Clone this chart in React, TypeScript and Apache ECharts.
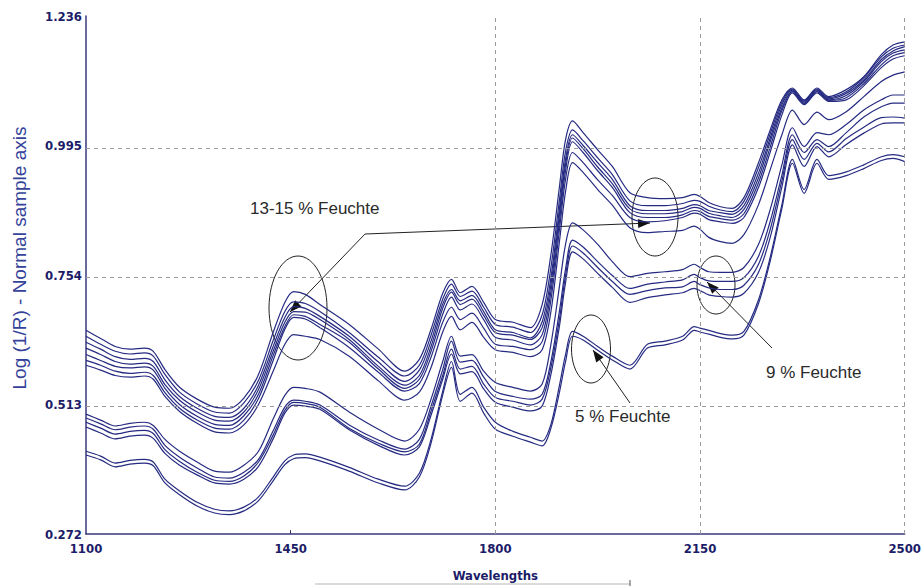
import React, { useEffect, useRef } from 'react';
import * as echarts from 'echarts';

// Wavelength sample points (nm)
const WAVELENGTHS = [
  1100, 1125, 1150, 1175, 1200, 1215, 1235, 1260, 1290, 1320,
  1345, 1370, 1395, 1420, 1440, 1455, 1475, 1500, 1550, 1600,
  1645, 1670, 1690, 1710, 1725, 1740, 1760, 1780, 1800, 1830,
  1860, 1880, 1895, 1910, 1920, 1932, 1950, 1975, 2000, 2030,
  2060, 2090, 2120, 2140, 2150, 2165, 2185, 2205, 2225, 2250,
  2270, 2290, 2308, 2328, 2350, 2370, 2400, 2430, 2460, 2480,
  2500,
];

// 13-15 % moisture spectra
const T1 = [
  0.651, 0.636, 0.621, 0.616, 0.618, 0.612, 0.578, 0.545, 0.523, 0.508,
  0.506, 0.525, 0.569, 0.647, 0.703, 0.723, 0.718, 0.699, 0.662, 0.616,
  0.575, 0.597, 0.653, 0.720, 0.746, 0.721, 0.733, 0.703, 0.671, 0.666,
  0.656, 0.699, 0.792, 0.922, 1.006, 1.041, 1.019, 0.987, 0.956, 0.907,
  0.898, 0.896, 0.898, 0.904, 0.900, 0.889, 0.881, 0.878, 0.898, 0.963,
  1.024, 1.080, 1.102, 1.080, 1.102, 1.086, 1.099, 1.123, 1.164, 1.182,
  1.188,
];
const T2 = [
  0.640, 0.625, 0.612, 0.607, 0.609, 0.603, 0.569, 0.536, 0.514, 0.499,
  0.497, 0.516, 0.558, 0.632, 0.686, 0.704, 0.701, 0.686, 0.647, 0.601,
  0.566, 0.586, 0.642, 0.709, 0.737, 0.714, 0.724, 0.694, 0.662, 0.657,
  0.647, 0.680, 0.768, 0.898, 0.984, 1.024, 1.004, 0.972, 0.941, 0.892,
  0.883, 0.883, 0.887, 0.893, 0.891, 0.882, 0.875, 0.872, 0.891, 0.954,
  1.017, 1.076, 1.100, 1.078, 1.100, 1.084, 1.095, 1.121, 1.160, 1.176,
  1.182,
];
const T3 = [
  0.629, 0.616, 0.602, 0.597, 0.599, 0.593, 0.559, 0.528, 0.506, 0.491,
  0.489, 0.506, 0.549, 0.621, 0.675, 0.695, 0.692, 0.677, 0.640, 0.592,
  0.556, 0.577, 0.631, 0.700, 0.727, 0.706, 0.716, 0.686, 0.652, 0.647,
  0.637, 0.667, 0.749, 0.881, 0.969, 1.015, 0.995, 0.963, 0.932, 0.883,
  0.874, 0.874, 0.878, 0.885, 0.883, 0.874, 0.870, 0.867, 0.883, 0.944,
  1.009, 1.071, 1.098, 1.076, 1.098, 1.082, 1.092, 1.117, 1.155, 1.171,
  1.179,
];
const T4 = [
  0.618, 0.606, 0.593, 0.588, 0.590, 0.584, 0.550, 0.521, 0.499, 0.484,
  0.482, 0.499, 0.541, 0.612, 0.666, 0.686, 0.685, 0.671, 0.634, 0.584,
  0.549, 0.567, 0.621, 0.692, 0.722, 0.699, 0.709, 0.679, 0.647, 0.642,
  0.634, 0.656, 0.736, 0.870, 0.960, 1.009, 0.989, 0.955, 0.924, 0.877,
  0.868, 0.868, 0.872, 0.880, 0.878, 0.869, 0.864, 0.861, 0.876, 0.935,
  1.002, 1.065, 1.096, 1.074, 1.096, 1.080, 1.088, 1.114, 1.151, 1.167,
  1.173,
];
const T5 = [
  0.606, 0.595, 0.584, 0.581, 0.583, 0.577, 0.543, 0.513, 0.491, 0.476,
  0.474, 0.492, 0.532, 0.604, 0.658, 0.680, 0.677, 0.662, 0.629, 0.579,
  0.543, 0.560, 0.612, 0.681, 0.713, 0.689, 0.700, 0.671, 0.638, 0.633,
  0.624, 0.643, 0.723, 0.857, 0.948, 1.002, 0.982, 0.948, 0.917, 0.870,
  0.861, 0.861, 0.866, 0.874, 0.872, 0.863, 0.859, 0.856, 0.868, 0.926,
  0.992, 1.060, 1.095, 1.073, 1.095, 1.079, 1.084, 1.110, 1.145, 1.162,
  1.168,
];
const T6 = [
  0.595, 0.586, 0.575, 0.571, 0.573, 0.567, 0.535, 0.506, 0.484, 0.469,
  0.467, 0.484, 0.524, 0.595, 0.653, 0.675, 0.672, 0.656, 0.619, 0.573,
  0.538, 0.552, 0.601, 0.666, 0.694, 0.671, 0.683, 0.655, 0.625, 0.621,
  0.615, 0.630, 0.708, 0.842, 0.932, 0.982, 0.963, 0.931, 0.902, 0.861,
  0.853, 0.855, 0.861, 0.869, 0.867, 0.857, 0.853, 0.850, 0.861, 0.917,
  0.983, 1.052, 1.093, 1.071, 1.093, 1.077, 1.080, 1.106, 1.140, 1.156,
  1.162,
];
const T7 = [
  0.586, 0.577, 0.567, 0.564, 0.566, 0.560, 0.528, 0.500, 0.478, 0.462,
  0.460, 0.475, 0.513, 0.575, 0.625, 0.643, 0.640, 0.634, 0.603, 0.557,
  0.521, 0.536, 0.582, 0.648, 0.677, 0.652, 0.666, 0.638, 0.615, 0.610,
  0.602, 0.615, 0.686, 0.820, 0.909, 0.963, 0.945, 0.913, 0.884, 0.842,
  0.833, 0.835, 0.837, 0.845, 0.839, 0.824, 0.816, 0.813, 0.829, 0.885,
  0.950, 1.015, 1.061, 1.034, 1.057, 1.043, 1.058, 1.086, 1.114, 1.126,
  1.132,
];

// 9 % moisture spectra
const M1 = [
  0.495, 0.484, 0.473, 0.478, 0.480, 0.474, 0.448, 0.426, 0.406, 0.389,
  0.387, 0.400, 0.426, 0.486, 0.530, 0.545, 0.543, 0.536, 0.499, 0.467,
  0.445, 0.467, 0.523, 0.593, 0.640, 0.603, 0.606, 0.575, 0.554, 0.545,
  0.538, 0.551, 0.625, 0.736, 0.811, 0.851, 0.838, 0.811, 0.779, 0.751,
  0.757, 0.760, 0.764, 0.774, 0.768, 0.760, 0.759, 0.759, 0.768, 0.811,
  0.876, 0.959, 1.028, 0.993, 1.019, 1.015, 1.034, 1.061, 1.080, 1.089,
  1.089,
];
const M2 = [
  0.488, 0.477, 0.466, 0.471, 0.473, 0.467, 0.437, 0.415, 0.395, 0.378,
  0.376, 0.387, 0.411, 0.464, 0.508, 0.521, 0.519, 0.512, 0.475, 0.447,
  0.430, 0.448, 0.510, 0.578, 0.631, 0.592, 0.595, 0.564, 0.537, 0.528,
  0.523, 0.532, 0.593, 0.690, 0.765, 0.819, 0.806, 0.779, 0.753, 0.729,
  0.737, 0.741, 0.745, 0.755, 0.749, 0.743, 0.742, 0.742, 0.749, 0.789,
  0.854, 0.940, 1.015, 0.982, 1.006, 0.993, 1.019, 1.048, 1.067, 1.074,
  1.074,
];
const M3 = [
  0.480, 0.469, 0.458, 0.463, 0.465, 0.459, 0.429, 0.407, 0.387, 0.372,
  0.370, 0.380, 0.406, 0.456, 0.502, 0.517, 0.515, 0.508, 0.469, 0.441,
  0.425, 0.439, 0.501, 0.567, 0.616, 0.579, 0.584, 0.551, 0.526, 0.519,
  0.512, 0.523, 0.582, 0.675, 0.753, 0.808, 0.795, 0.768, 0.742, 0.718,
  0.725, 0.730, 0.732, 0.742, 0.736, 0.730, 0.727, 0.727, 0.735, 0.774,
  0.839, 0.929, 1.006, 0.969, 0.999, 0.983, 1.008, 1.029, 1.047, 1.048,
  1.046,
];
const M4 = [
  0.471, 0.460, 0.449, 0.454, 0.456, 0.450, 0.422, 0.400, 0.382, 0.367,
  0.365, 0.374, 0.398, 0.449, 0.497, 0.512, 0.510, 0.504, 0.466, 0.437,
  0.419, 0.434, 0.493, 0.560, 0.607, 0.570, 0.574, 0.542, 0.517, 0.508,
  0.501, 0.510, 0.569, 0.662, 0.740, 0.797, 0.784, 0.757, 0.731, 0.703,
  0.712, 0.717, 0.721, 0.729, 0.725, 0.717, 0.714, 0.713, 0.720, 0.759,
  0.824, 0.918, 0.996, 0.956, 0.993, 0.974, 0.997, 1.018, 1.035, 1.037,
  1.037,
];

// 5 % moisture spectra
const B1 = [
  0.426, 0.417, 0.404, 0.409, 0.411, 0.406, 0.374, 0.352, 0.331, 0.318,
  0.315, 0.322, 0.341, 0.378, 0.408, 0.419, 0.421, 0.415, 0.396, 0.374,
  0.361, 0.385, 0.448, 0.538, 0.593, 0.532, 0.545, 0.508, 0.480, 0.463,
  0.452, 0.445, 0.476, 0.551, 0.606, 0.649, 0.640, 0.621, 0.603, 0.586,
  0.625, 0.631, 0.640, 0.658, 0.655, 0.651, 0.645, 0.642, 0.649, 0.708,
  0.787, 0.885, 0.969, 0.913, 0.969, 0.939, 0.946, 0.959, 0.974, 0.978,
  0.974,
];
const B2 = [
  0.419, 0.410, 0.397, 0.402, 0.404, 0.399, 0.367, 0.345, 0.324, 0.311,
  0.308, 0.315, 0.334, 0.371, 0.401, 0.412, 0.414, 0.408, 0.389, 0.367,
  0.354, 0.378, 0.441, 0.531, 0.582, 0.519, 0.534, 0.497, 0.467, 0.454,
  0.443, 0.436, 0.469, 0.538, 0.593, 0.640, 0.633, 0.614, 0.596, 0.579,
  0.618, 0.624, 0.633, 0.651, 0.648, 0.644, 0.638, 0.635, 0.642, 0.701,
  0.780, 0.878, 0.962, 0.906, 0.962, 0.932, 0.939, 0.952, 0.967, 0.971,
  0.965,
];

const SPECTRA = [T1, T2, T3, T4, T5, T6, T7, M1, M2, M3, M4, B1, B2];

const X_TICKS = [1100, 1450, 1800, 2150, 2500];
const X_SMALL_TICKS = [1450];
const Y_TICKS = [0.272, 0.513, 0.754, 0.995, 1.236];
const X_GRID = [1800, 2150, 2500];
const Y_GRID = [0.513, 0.754, 0.995, 1.236];

const X_NAME = 'Wavelengths';
const Y_NAME = 'Log (1/R) - Normal sample axis';
const LABEL_HIGH = '13-15 % Feuchte';
const LABEL_MID = '9 % Feuchte';
const LABEL_LOW = '5 % Feuchte';

const NAVY = '#1c1c68';
const LINE = '#262b82';
const TICK_FONT = "'DejaVu Sans Condensed', 'Liberation Sans Narrow', 'Liberation Sans', sans-serif";
const TEXT_FONT = "'Liberation Sans', Arial, sans-serif";

function arrowHead(tip: [number, number], from: [number, number], len = 12, half = 4.5) {
  const dx = tip[0] - from[0];
  const dy = tip[1] - from[1];
  const l = Math.hypot(dx, dy);
  const ux = dx / l;
  const uy = dy / l;
  const bx = tip[0] - ux * len;
  const by = tip[1] - uy * len;
  const nx = -uy * half;
  const ny = ux * half;
  return [tip, [bx + nx, by + ny], [bx - nx, by - ny]];
}

export default function App() {
  const ref = useRef<HTMLDivElement>(null);

  useEffect(() => {
    if (!ref.current) return;
    const chart = echarts.init(ref.current, null, { renderer: 'svg' });

    const series: any[] = SPECTRA.map((vals, i) => ({
      type: 'line',
      name: 'S' + (i + 1),
      data: WAVELENGTHS.map((w, j) => [w, vals[j]]),
      showSymbol: false,
      symbol: 'none',
      smooth: 0.3,
      lineStyle: { color: LINE, width: 1.2 },
      z: 3,
      silent: true,
    }));

    series.push({
      type: 'line',
      name: 'grid',
      data: [],
      z: 1,
      silent: true,
      markLine: {
        silent: true,
        symbol: 'none',
        label: { show: false },
        lineStyle: { type: [4, 4], color: '#9a9a9a', width: 1 },
        data: [
          ...Y_GRID.map((v) => ({ yAxis: v })),
          ...X_GRID.map((v) => ({ xAxis: v })),
        ],
      },
    });

    const ink = '#222';
    const from1: [number, number] = [365, 234];
    const tipA: [number, number] = [290, 312];
    const tipB: [number, number] = [650, 223];
    const from9: [number, number] = [772, 348];
    const tip9: [number, number] = [707, 282];
    const from5: [number, number] = [630, 403];
    const tip5: [number, number] = [593, 350];

    const graphic: any[] = [
      {
        type: 'text',
        x: 19,
        y: 258,
        rotation: Math.PI / 2,
        style: {
          text: Y_NAME,
          fill: '#34429a',
          font: `19px ${TEXT_FONT}`,
          align: 'center',
          verticalAlign: 'middle',
        },
      },
      { type: 'ellipse', shape: { cx: 298, cy: 308, rx: 29, ry: 52 }, style: { fill: 'none', stroke: ink, lineWidth: 1 } },
      { type: 'ellipse', shape: { cx: 655, cy: 217, rx: 23, ry: 39 }, style: { fill: 'none', stroke: ink, lineWidth: 1 } },
      { type: 'ellipse', shape: { cx: 716, cy: 285, rx: 19, ry: 29 }, style: { fill: 'none', stroke: ink, lineWidth: 1 } },
      { type: 'ellipse', shape: { cx: 591, cy: 349, rx: 19.5, ry: 34 }, style: { fill: 'none', stroke: ink, lineWidth: 1 } },
      { type: 'line', shape: { x1: from1[0], y1: from1[1], x2: tipA[0], y2: tipA[1] }, style: { stroke: ink, lineWidth: 1 } },
      { type: 'line', shape: { x1: from1[0], y1: from1[1], x2: tipB[0], y2: tipB[1] }, style: { stroke: ink, lineWidth: 1 } },
      { type: 'line', shape: { x1: from9[0], y1: from9[1], x2: tip9[0], y2: tip9[1] }, style: { stroke: ink, lineWidth: 1 } },
      { type: 'line', shape: { x1: from5[0], y1: from5[1], x2: tip5[0], y2: tip5[1] }, style: { stroke: ink, lineWidth: 1 } },
      { type: 'polygon', shape: { points: arrowHead(tipA, from1) }, style: { fill: '#111' } },
      { type: 'polygon', shape: { points: arrowHead(tipB, from1) }, style: { fill: '#111' } },
      { type: 'polygon', shape: { points: arrowHead(tip9, from9) }, style: { fill: '#111' } },
      { type: 'polygon', shape: { points: arrowHead(tip5, from5) }, style: { fill: '#111' } },
      {
        type: 'text', x: 250, y: 208,
        style: { text: LABEL_HIGH, fill: '#2a2a2a', font: `17px ${TEXT_FONT}`, verticalAlign: 'middle' },
      },
      {
        type: 'text', x: 766, y: 372,
        style: { text: LABEL_MID, fill: '#2a2a2a', font: `17px ${TEXT_FONT}`, verticalAlign: 'middle' },
      },
      {
        type: 'text', x: 575, y: 416,
        style: { text: LABEL_LOW, fill: '#2a2a2a', font: `17px ${TEXT_FONT}`, verticalAlign: 'middle' },
      },
      { type: 'line', shape: { x1: 315, y1: 584, x2: 630, y2: 584 }, style: { stroke: '#cfcfcf', lineWidth: 1.5 } },
      { type: 'line', shape: { x1: 630, y1: 580, x2: 630, y2: 586 }, style: { stroke: '#555', lineWidth: 1 } },
    ];

    const option: any = {
      animation: false,
      backgroundColor: '#ffffff',
      grid: { left: 86, right: 16, top: 16, bottom: 52, containLabel: false },
      xAxis: {
        type: 'value',
        min: 1100,
        max: 2500,
        name: X_NAME,
        nameLocation: 'middle',
        nameGap: 35,
        nameTextStyle: { color: NAVY, fontFamily: TICK_FONT, fontWeight: 'bold', fontSize: 13 },
        axisLine: { show: true, lineStyle: { color: '#3a3a7a', width: 1.5 } },
        axisTick: { show: true, inside: true, length: 4, customValues: X_SMALL_TICKS, lineStyle: { color: '#3a3a7a' } },
        axisLabel: {
          customValues: X_TICKS,
          color: NAVY,
          fontFamily: TICK_FONT,
          fontWeight: 'bold',
          fontSize: 13,
          margin: 8,
          formatter: (v: number) => String(v),
        },
        splitLine: { show: false },
      },
      yAxis: {
        type: 'value',
        min: 0.272,
        max: 1.236,
        axisLine: { show: true, lineStyle: { color: '#3a3a7a', width: 1.5 } },
        axisTick: { show: false },
        axisLabel: {
          customValues: Y_TICKS,
          color: NAVY,
          fontFamily: TICK_FONT,
          fontWeight: 'bold',
          fontSize: 13,
          margin: 4,
          formatter: (v: number) => v.toFixed(3),
        },
        splitLine: { show: false },
      },
      series,
      graphic,
    };

    chart.setOption(option);
    return () => chart.dispose();
  }, []);

  return (
    <div
      ref={ref}
      style={{ position: 'fixed', left: 0, top: 0, width: 924, height: 587, background: '#fff' }}
    />
  );
}
